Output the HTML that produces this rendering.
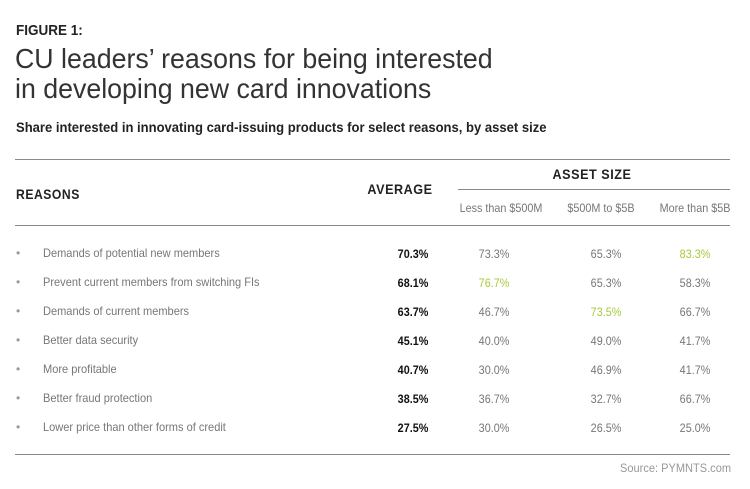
<!DOCTYPE html>
<html><head><meta charset="utf-8"><style>
body{margin:0;width:750px;height:489px;background:#fff;position:relative;font-family:"Liberation Sans",sans-serif;overflow:hidden}
.a{position:absolute;white-space:nowrap;transform-origin:left top}
.l{position:absolute;height:1px;background:#8a8a8a}
.c{position:absolute;transform:translateX(-50%) scaleX(0.9);white-space:nowrap;font-size:12px;color:#777}
.b{color:#111;font-weight:bold}
.g{color:#a6c93a}
.r{position:absolute;left:43px;font-size:12px;color:#777;white-space:nowrap;transform:scaleX(0.92);transform-origin:left top}
.d{position:absolute;left:16px;font-size:12px;color:#999}
</style></head><body>
<div class="a" style="left:16px;top:22px;font-size:15px;font-weight:bold;color:#222;transform:scaleX(0.9)">FIGURE 1:</div>
<div class="a" style="left:15px;top:44px;font-size:28px;line-height:30px;color:#333;transform:scaleX(0.955)">CU leaders’ reasons for being interested<br>in developing new card innovations</div>
<div class="a" style="left:16px;top:120px;font-size:13.5px;font-weight:bold;color:#222;transform:scaleX(0.966)">Share interested in innovating card-issuing products for select reasons, by asset size</div>
<div class="l" style="left:15px;top:159px;width:715px"></div>
<div class="l" style="left:458px;top:189px;width:272px"></div>
<div class="l" style="left:15px;top:225px;width:715px"></div>
<div class="l" style="left:15px;top:454px;width:715px"></div>
<div class="a" style="left:16px;top:186px;font-size:14px;font-weight:bold;color:#222;letter-spacing:0.6px;transform:scaleX(0.87)">REASONS</div>
<div class="c" style="left:400px;top:181px;font-size:14px;font-weight:bold;color:#222;letter-spacing:0.6px">AVERAGE</div>
<div class="c" style="left:592px;top:166px;font-size:14px;font-weight:bold;color:#222;letter-spacing:0.6px">ASSET SIZE</div>
<div class="c" style="left:501px;top:201px">Less than $500M</div>
<div class="c" style="left:601px;top:201px">$500M to $5B</div>
<div class="c" style="left:695px;top:201px">More than $5B</div>

<div class="d" style="top:246px">•</div><div class="r" style="top:246px">Demands of potential new members</div>
<div class="c b" style="left:413px;top:247px">70.3%</div><div class="c" style="left:494px;top:247px">73.3%</div><div class="c" style="left:606px;top:247px">65.3%</div><div class="c g" style="left:695px;top:247px">83.3%</div>

<div class="d" style="top:275px">•</div><div class="r" style="top:275px">Prevent current members from switching FIs</div>
<div class="c b" style="left:413px;top:276px">68.1%</div><div class="c g" style="left:494px;top:276px">76.7%</div><div class="c" style="left:606px;top:276px">65.3%</div><div class="c" style="left:695px;top:276px">58.3%</div>

<div class="d" style="top:304px">•</div><div class="r" style="top:304px">Demands of current members</div>
<div class="c b" style="left:413px;top:305px">63.7%</div><div class="c" style="left:494px;top:305px">46.7%</div><div class="c g" style="left:606px;top:305px">73.5%</div><div class="c" style="left:695px;top:305px">66.7%</div>

<div class="d" style="top:333px">•</div><div class="r" style="top:333px">Better data security</div>
<div class="c b" style="left:413px;top:334px">45.1%</div><div class="c" style="left:494px;top:334px">40.0%</div><div class="c" style="left:606px;top:334px">49.0%</div><div class="c" style="left:695px;top:334px">41.7%</div>

<div class="d" style="top:362px">•</div><div class="r" style="top:362px">More profitable</div>
<div class="c b" style="left:413px;top:363px">40.7%</div><div class="c" style="left:494px;top:363px">30.0%</div><div class="c" style="left:606px;top:363px">46.9%</div><div class="c" style="left:695px;top:363px">41.7%</div>

<div class="d" style="top:391px">•</div><div class="r" style="top:391px">Better fraud protection</div>
<div class="c b" style="left:413px;top:392px">38.5%</div><div class="c" style="left:494px;top:392px">36.7%</div><div class="c" style="left:606px;top:392px">32.7%</div><div class="c" style="left:695px;top:392px">66.7%</div>

<div class="d" style="top:420px">•</div><div class="r" style="top:420px">Lower price than other forms of credit</div>
<div class="c b" style="left:413px;top:421px">27.5%</div><div class="c" style="left:494px;top:421px">30.0%</div><div class="c" style="left:606px;top:421px">26.5%</div><div class="c" style="left:695px;top:421px">25.0%</div>

<div class="a" style="left:620px;top:461px;font-size:12px;color:#999;transform:scaleX(0.92)">Source: PYMNTS.com</div>
</body></html>
